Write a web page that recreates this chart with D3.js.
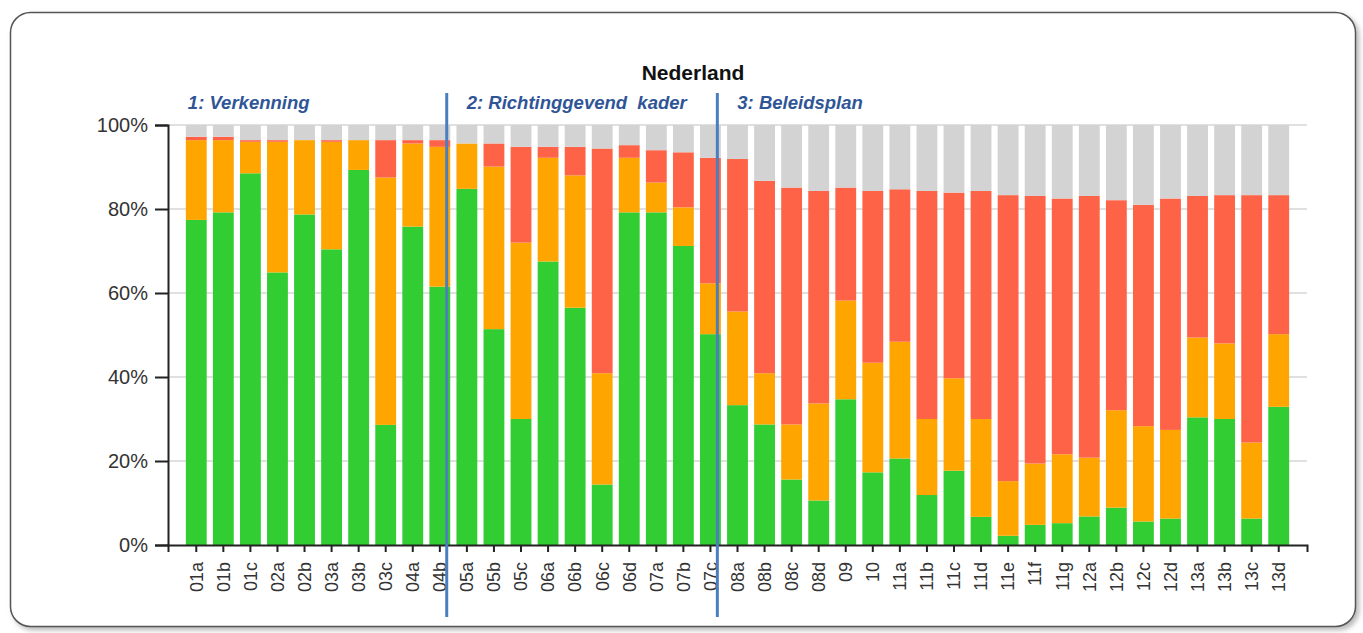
<!DOCTYPE html>
<html>
<head>
<meta charset="utf-8">
<script src="https://cdn.jsdelivr.net/npm/d3@7"></script>
<style>
  body { margin: 0; background: #fff; }
  svg { display: block; font-family: "Liberation Sans", Arial, sans-serif; }
</style>
</head>
<body>
<svg id="chart" width="1363" height="633"></svg>
<script>
// categories (x axis)
var categories = ["01a","01b","01c","02a","02b","03a","03b","03c","04a","04b",
                  "05a","05b","05c","06a","06b","06c","06d","07a","07b","07c",
                  "08a","08b","08c","08d","09","10","11a","11b","11c","11d","11e","11f","11g",
                  "12a","12b","12c","12d","13a","13b","13c","13d"]

// share per category, in percent
var groen  = [77.4,79.2,88.5,64.9,78.7,70.4,89.3,28.6,75.8,61.5,
              84.8,51.4,30.0,67.5,56.5,14.4,79.2,79.2,71.2,50.2,
              33.3,28.7,15.6,10.6,34.7,17.3,20.6,11.9,17.7,6.7,2.2,4.8,5.2,
              6.8,8.9,5.6,6.3,30.4,30.0,6.3,32.9]
var oranje = [19.0,17.2,7.5,31.1,17.7,25.6,7.1,58.9,19.8,33.3,
              10.8,38.7,42.0,24.7,31.5,26.5,13.0,7.1,9.2,12.1,
              22.3,12.2,13.1,23.1,23.5,26.1,27.8,18.1,22.0,23.3,13.0,14.6,16.4,
              14.0,23.2,22.7,21.1,19.0,18.0,18.1,17.3]
var rood   = [0.8,0.8,0.4,0.4,0.0,0.4,0.0,8.9,0.8,1.6,
              0.0,5.5,22.8,2.6,6.8,53.5,3.0,7.7,13.1,29.9,
              36.3,45.8,56.4,50.6,26.9,40.9,36.3,54.3,44.2,54.3,68.1,63.7,60.9,
              62.3,50.0,52.7,55.1,33.7,35.3,58.9,33.1]
var grijs  = [2.8,2.8,3.6,3.6,3.6,3.6,3.6,3.6,3.6,3.6,
              4.4,4.4,5.2,5.2,5.2,5.6,4.8,6.0,6.5,7.8,
              8.1,13.3,14.9,15.7,14.9,15.7,15.3,15.7,16.1,15.7,16.7,16.9,17.5,
              16.9,17.9,19.0,17.5,16.9,16.7,16.7,16.7]

var seriesNames = ["groen","oranje","rood","grijs"]
var seriesColors = ["#32cd32","#ffa500","#ff6347","#d3d3d3"]

var yTicks = [0,20,40,60,80,100]

// phases: label and first category of each phase
var phaseLabels = ["1: Verkenning","2: Richtinggevend\u00a0 kader","3: Beleidsplan"]
var phaseStarts = ["01a","05a","08a"]

var chartTitle = "Nederland"

var rows = categories.map(function(c, i){
    return {cat: c, groen: groen[i], oranje: oranje[i], rood: rood[i], grijs: grijs[i]}
})

var dimensions = {
    width: 1363,
    height: 633,
    left: 168,
    right: 1307,
    top: 125,
    bottom: 545
}

var svg = d3.select("#chart")

// frame with soft shadow
var defs = svg.append("defs")
var filter = defs.append("filter").attr("id","shadow")
    .attr("x","-5%").attr("y","-5%").attr("width","110%").attr("height","115%")
filter.append("feDropShadow")
    .attr("dx",3).attr("dy",3).attr("stdDeviation",2.5)
    .attr("flood-color","#888").attr("flood-opacity",0.6)

svg.append("rect")
    .attr("x",10.5).attr("y",12.5)
    .attr("width",1345).attr("height",614)
    .attr("rx",20).attr("ry",20)
    .attr("fill","#fff")
    .attr("stroke","#555")
    .attr("stroke-width",1.5)
    .attr("filter","url(#shadow)")

var x = d3.scaleBand()
    .domain(categories)
    .range([dimensions.left, dimensions.right])
    .paddingInner(0.23)
    .paddingOuter(0.66)

var y = d3.scaleLinear()
    .domain([0,100])
    .range([dimensions.bottom, dimensions.top])

// gridlines
svg.append("g")
    .selectAll("line")
    .data(yTicks.filter(function(d){ return d > 0 }))
    .enter()
    .append("line")
        .attr("x1", dimensions.left)
        .attr("x2", dimensions.right)
        .attr("y1", function(d){ return y(d) })
        .attr("y2", function(d){ return y(d) })
        .attr("stroke","#e0e0e0")
        .attr("stroke-width",2)

var stacked = d3.stack().keys(seriesNames)(rows)

svg.append("g")
    .selectAll("g")
    .data(stacked)
    .enter()
    .append("g")
        .attr("fill", function(d, i){ return seriesColors[i] })
    .selectAll("rect")
    .data(function(d){ return d })
    .enter()
    .append("rect")
        .attr("x", function(d){ return x(d.data.cat) })
        .attr("width", x.bandwidth())
        .attr("y", function(d){ return y(d[1]) })
        .attr("height", function(d){ return y(d[0]) - y(d[1]) })

// y axis
var yAxis = svg.append("g")
    .attr("transform","translate(" + dimensions.left + ",0)")
    .call(d3.axisLeft(y).tickValues(yTicks).tickSize(13).tickPadding(7)
        .tickFormat(function(d){ return d + "%" }))
yAxis.selectAll("path, line").attr("stroke","#222").attr("stroke-width",2)
yAxis.selectAll("text").attr("font-size",20).attr("fill","#333")
    .attr("font-family","'Liberation Sans', Arial, sans-serif")

// x axis
var xAxis = svg.append("g")
    .attr("transform","translate(0," + dimensions.bottom + ")")
    .call(d3.axisBottom(x).tickSize(7).tickSizeOuter(7))
xAxis.selectAll("path, line").attr("stroke","#222").attr("stroke-width",2)
xAxis.selectAll("text")
    .attr("transform","rotate(-90)")
    .attr("x",-17)
    .attr("y",0)
    .attr("dy","0.35em")
    .attr("text-anchor","end")
    .attr("font-size",18)
    .attr("fill","#333")
    .attr("font-family","'Liberation Sans', Arial, sans-serif")

// phase dividers and labels
var step = x.step()
var lineX = phaseStarts.map(function(s){ return x(s) - step * 0.36 })

svg.append("g")
    .selectAll("line")
    .data(lineX.slice(1))
    .enter()
    .append("line")
        .attr("x1", function(d){ return d })
        .attr("x2", function(d){ return d })
        .attr("y1", 93)
        .attr("y2", 617)
        .attr("stroke","#4a7ebf")
        .attr("stroke-width",3)

svg.append("g")
    .selectAll("text")
    .data(phaseLabels)
    .enter()
    .append("text")
        .attr("x", function(d, i){ return i === 0 ? x(phaseStarts[i]) + 2 : lineX[i] + 20 })
        .attr("y", 109)
        .attr("font-size",18.5)
        .attr("font-weight","bold")
        .attr("font-style","italic")
        .attr("fill","#2f5597")
        .text(function(d){ return d })

svg.append("text")
    .attr("x",693)
    .attr("y",80)
    .attr("text-anchor","middle")
    .attr("font-size",21)
    .attr("font-weight","bold")
    .attr("fill","#111")
    .text(chartTitle)
</script>
</body>
</html>
